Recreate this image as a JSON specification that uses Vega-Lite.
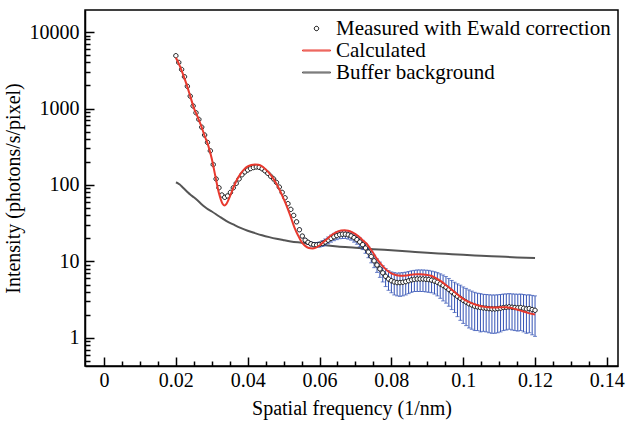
{
  "$schema": "https://vega.github.io/schema/vega-lite/v6.json",
  "width": 533,
  "height": 356,
  "padding": {"left": 3, "top": 10, "right": 1, "bottom": 5},
  "background": "white",
  "config": {
    "font": "Liberation Serif",
    "view": {"stroke": "black", "strokeWidth": 1.5},
    "axis": {
      "grid": false, "domainColor": "black", "domainWidth": 1.5,
      "tickColor": "black", "tickWidth": 1.5,
      "labelFont": "Liberation Serif", "labelFontSize": 20, "labelColor": "black",
      "titleFont": "Liberation Serif", "titleFontSize": 20, "titleFontWeight": "normal", "titleColor": "black",
      "labelOverlap": false, "labelFlush": false, "labelBound": false
    }
  },
  "datasets": {
    "measured": [
      {"x":0.0200,"y":4900,"err":60},{"x":0.0208,"y":4000,"err":50},{"x":0.0216,"y":3240,"err":40},{"x":0.0224,"y":2600,"err":32},
      {"x":0.0232,"y":1950,"err":25},{"x":0.0240,"y":1450,"err":18},{"x":0.0248,"y":1080,"err":14},{"x":0.0256,"y":880,"err":11},
      {"x":0.0264,"y":720,"err":9},{"x":0.0272,"y":570,"err":7},{"x":0.0280,"y":450,"err":6},{"x":0.0288,"y":360,"err":5},
      {"x":0.0296,"y":280,"err":4},{"x":0.0304,"y":185,"err":3},{"x":0.0312,"y":120,"err":2},{"x":0.0320,"y":92,"err":1.5},
      {"x":0.0328,"y":74,"err":1.2},{"x":0.0336,"y":69,"err":1.1},{"x":0.0344,"y":72,"err":1.1},{"x":0.0352,"y":80,"err":1.2},
      {"x":0.0360,"y":92,"err":1.4},{"x":0.0368,"y":105,"err":1.6},{"x":0.0376,"y":120,"err":1.8},{"x":0.0384,"y":136,"err":2},
      {"x":0.0392,"y":148,"err":2.2},{"x":0.0400,"y":157,"err":2.3},{"x":0.0408,"y":164,"err":2.4},{"x":0.0416,"y":169,"err":2.5},
      {"x":0.0424,"y":172,"err":2.5},{"x":0.0432,"y":170,"err":2.5},{"x":0.0440,"y":163,"err":2.4},{"x":0.0448,"y":153,"err":2.3},
      {"x":0.0456,"y":142,"err":2.2},{"x":0.0464,"y":130,"err":2},{"x":0.0472,"y":120,"err":1.9},{"x":0.0480,"y":108,"err":1.8},
      {"x":0.0488,"y":94,"err":1.7},{"x":0.0496,"y":80,"err":1.6},{"x":0.0504,"y":68,"err":1.5},{"x":0.0512,"y":57,"err":1.5},
      {"x":0.0520,"y":48,"err":1.4},{"x":0.0528,"y":40,"err":1.3},{"x":0.0536,"y":33,"err":1.2},{"x":0.0544,"y":26,"err":1.1},
      {"x":0.0552,"y":21.5,"err":1.0},{"x":0.0560,"y":19,"err":1.0},{"x":0.0568,"y":17.8,"err":1.0},{"x":0.0576,"y":17.0,"err":1.0},
      {"x":0.0584,"y":16.6,"err":1.1},{"x":0.0592,"y":16.5,"err":1.2},{"x":0.0600,"y":16.7,"err":1.3},{"x":0.0608,"y":17.2,"err":1.5},
      {"x":0.0616,"y":18.0,"err":1.7},{"x":0.0624,"y":19.0,"err":1.9},{"x":0.0632,"y":20.0,"err":2.1},{"x":0.0640,"y":21.0,"err":2.3},
      {"x":0.0648,"y":21.8,"err":2.5},{"x":0.0656,"y":22.4,"err":2.6},{"x":0.0664,"y":22.7,"err":2.7},{"x":0.0672,"y":22.7,"err":2.7},
      {"x":0.0680,"y":22.3,"err":2.7},{"x":0.0688,"y":21.6,"err":2.6},{"x":0.0696,"y":20.5,"err":2.6},{"x":0.0704,"y":19.3,"err":2.5},
      {"x":0.0712,"y":18.0,"err":2.4},{"x":0.0720,"y":16.6,"err":2.3},{"x":0.0728,"y":15.0,"err":2.2},{"x":0.0736,"y":13.3,"err":2.1},
      {"x":0.0744,"y":11.6,"err":2.0},{"x":0.0752,"y":10.2,"err":1.9},{"x":0.0760,"y":9.0,"err":1.8},{"x":0.0768,"y":8.0,"err":1.8},
      {"x":0.0776,"y":7.1,"err":1.7},{"x":0.0784,"y":6.4,"err":1.7},{"x":0.0792,"y":5.9,"err":1.7},{"x":0.0800,"y":5.6,"err":1.7},
      {"x":0.0808,"y":5.4,"err":1.75},{"x":0.0816,"y":5.3,"err":1.75},{"x":0.0824,"y":5.3,"err":1.8},{"x":0.0832,"y":5.35,"err":1.8},
      {"x":0.0840,"y":5.45,"err":1.8},{"x":0.0848,"y":5.6,"err":1.8},{"x":0.0856,"y":5.75,"err":1.8},{"x":0.0864,"y":5.85,"err":1.8},
      {"x":0.0872,"y":5.9,"err":1.85},{"x":0.0880,"y":5.9,"err":1.85},{"x":0.0888,"y":5.9,"err":1.85},{"x":0.0896,"y":5.85,"err":1.85},
      {"x":0.0904,"y":5.8,"err":1.85},{"x":0.0912,"y":5.7,"err":1.8},{"x":0.0920,"y":5.55,"err":1.8},{"x":0.0928,"y":5.35,"err":1.8},
      {"x":0.0936,"y":5.1,"err":1.8},{"x":0.0944,"y":4.85,"err":1.8},{"x":0.0952,"y":4.6,"err":1.75},{"x":0.0960,"y":4.3,"err":1.7},
      {"x":0.0968,"y":4.0,"err":1.65},{"x":0.0976,"y":3.75,"err":1.6},{"x":0.0984,"y":3.5,"err":1.6},{"x":0.0992,"y":3.3,"err":1.6},
      {"x":0.1000,"y":3.1,"err":1.55},{"x":0.1008,"y":2.95,"err":1.5},{"x":0.1016,"y":2.8,"err":1.45},{"x":0.1024,"y":2.7,"err":1.4},
      {"x":0.1032,"y":2.6,"err":1.35},{"x":0.1040,"y":2.55,"err":1.3},{"x":0.1048,"y":2.5,"err":1.3},{"x":0.1056,"y":2.47,"err":1.25},
      {"x":0.1064,"y":2.45,"err":1.25},{"x":0.1072,"y":2.42,"err":1.25},{"x":0.1080,"y":2.4,"err":1.25},{"x":0.1088,"y":2.4,"err":1.25},
      {"x":0.1096,"y":2.42,"err":1.25},{"x":0.1104,"y":2.45,"err":1.25},{"x":0.1112,"y":2.5,"err":1.25},{"x":0.1120,"y":2.52,"err":1.25},
      {"x":0.1128,"y":2.55,"err":1.25},{"x":0.1136,"y":2.52,"err":1.25},{"x":0.1144,"y":2.5,"err":1.25},{"x":0.1152,"y":2.48,"err":1.25},
      {"x":0.1160,"y":2.5,"err":1.25},{"x":0.1168,"y":2.45,"err":1.25},{"x":0.1176,"y":2.4,"err":1.25},{"x":0.1184,"y":2.42,"err":1.25},
      {"x":0.1192,"y":2.35,"err":1.25},{"x":0.1200,"y":2.3,"err":1.25}
    ],
    "calc": [
      {"x":0.020,"y":4600},{"x":0.021,"y":3700},{"x":0.022,"y":2800},{"x":0.023,"y":2050},{"x":0.024,"y":1450},
      {"x":0.025,"y":1020},{"x":0.026,"y":790},{"x":0.027,"y":600},{"x":0.028,"y":440},{"x":0.029,"y":330},
      {"x":0.030,"y":220},{"x":0.031,"y":130},{"x":0.032,"y":78},{"x":0.033,"y":57},{"x":0.0336,"y":54},
      {"x":0.034,"y":56},{"x":0.035,"y":70},{"x":0.036,"y":92},{"x":0.037,"y":117},{"x":0.038,"y":140},
      {"x":0.039,"y":160},{"x":0.040,"y":175},{"x":0.041,"y":183},{"x":0.042,"y":186},{"x":0.043,"y":184},
      {"x":0.044,"y":175},{"x":0.045,"y":160},{"x":0.046,"y":143},{"x":0.047,"y":124},{"x":0.048,"y":104},
      {"x":0.049,"y":84},{"x":0.050,"y":66},{"x":0.051,"y":51},{"x":0.052,"y":38},{"x":0.053,"y":28},
      {"x":0.054,"y":22},{"x":0.055,"y":18},{"x":0.056,"y":16},{"x":0.057,"y":15},{"x":0.058,"y":14.8},
      {"x":0.059,"y":15.2},{"x":0.060,"y":16.2},{"x":0.061,"y":17.8},{"x":0.062,"y":19.5},{"x":0.063,"y":21.5},
      {"x":0.064,"y":23.2},{"x":0.065,"y":24.6},{"x":0.066,"y":25.4},{"x":0.067,"y":25.6},{"x":0.068,"y":25.2},
      {"x":0.069,"y":24.2},{"x":0.070,"y":22.8},{"x":0.071,"y":21},{"x":0.072,"y":19},{"x":0.073,"y":17.3},
      {"x":0.074,"y":15},{"x":0.075,"y":12.8},{"x":0.076,"y":10.8},{"x":0.077,"y":9.4},{"x":0.078,"y":8.3},
      {"x":0.079,"y":7.5},{"x":0.080,"y":7.0},{"x":0.081,"y":6.7},{"x":0.082,"y":6.55},{"x":0.083,"y":6.5},
      {"x":0.084,"y":6.55},{"x":0.085,"y":6.65},{"x":0.086,"y":6.75},{"x":0.087,"y":6.8},{"x":0.088,"y":6.8},
      {"x":0.089,"y":6.75},{"x":0.090,"y":6.65},{"x":0.091,"y":6.5},{"x":0.092,"y":6.2},{"x":0.093,"y":5.85},
      {"x":0.094,"y":5.45},{"x":0.095,"y":5.0},{"x":0.096,"y":4.6},{"x":0.097,"y":4.2},{"x":0.098,"y":3.85},
      {"x":0.099,"y":3.5},{"x":0.100,"y":3.25},{"x":0.101,"y":3.05},{"x":0.102,"y":2.9},{"x":0.103,"y":2.78},
      {"x":0.104,"y":2.68},{"x":0.105,"y":2.6},{"x":0.106,"y":2.55},{"x":0.107,"y":2.52},{"x":0.108,"y":2.5},
      {"x":0.109,"y":2.5},{"x":0.110,"y":2.52},{"x":0.111,"y":2.53},{"x":0.112,"y":2.52},{"x":0.113,"y":2.48},
      {"x":0.114,"y":2.42},{"x":0.115,"y":2.35},{"x":0.116,"y":2.28},{"x":0.117,"y":2.2},{"x":0.118,"y":2.13},
      {"x":0.119,"y":2.07},{"x":0.120,"y":2.02}
    ],
    "bg": [
      {"x":0.0200,"y":108},{"x":0.0205,"y":106},{"x":0.0210,"y":102},{"x":0.0220,"y":92},{"x":0.0230,"y":83},
      {"x":0.0240,"y":75},{"x":0.0250,"y":69},{"x":0.0260,"y":63},{"x":0.0270,"y":57},{"x":0.0280,"y":52},
      {"x":0.0290,"y":48},{"x":0.0300,"y":45},{"x":0.0320,"y":39},{"x":0.0340,"y":34},{"x":0.0360,"y":30.5},
      {"x":0.0380,"y":27.5},{"x":0.0400,"y":25.2},{"x":0.0420,"y":23.5},{"x":0.0440,"y":22},{"x":0.0460,"y":20.8},
      {"x":0.0480,"y":19.8},{"x":0.0500,"y":19},{"x":0.0520,"y":18.3},{"x":0.0550,"y":17.6},{"x":0.0600,"y":16.5},
      {"x":0.0650,"y":15.7},{"x":0.0700,"y":15.1},{"x":0.0750,"y":14.5},{"x":0.0800,"y":14.0},{"x":0.0850,"y":13.5},
      {"x":0.0900,"y":13.0},{"x":0.0950,"y":12.6},{"x":0.1000,"y":12.2},{"x":0.1050,"y":11.9},{"x":0.1100,"y":11.6},
      {"x":0.1150,"y":11.3},{"x":0.1200,"y":11.1}
    ]
  },
  "encoding": {
    "x": {
      "field": "x", "type": "quantitative",
      "scale": {"type": "linear", "domain": [-0.0053, 0.1431], "nice": false, "zero": false},
      "axis": {
        "title": "Spatial frequency (1/nm)",
        "values": [0,0.005,0.01,0.015,0.02,0.025,0.03,0.035,0.04,0.045,0.05,0.055,0.06,0.065,0.07,0.075,0.08,0.085,0.09,0.095,0.1,0.105,0.11,0.115,0.12,0.125,0.13,0.135,0.14],
        "labelExpr": "abs(datum.value*50 - round(datum.value*50)) < 0.01 ? format(datum.value, '~g') : ''",
        "tickSize": {"condition": {"test": "abs(datum.value*50 - round(datum.value*50)) < 0.01", "value": -9}, "value": -5},
        "labelPadding": 13,
        "titlePadding": 4
      }
    },
    "y": {
      "field": "y", "type": "quantitative",
      "scale": {"type": "log", "domain": [0.43, 19400], "nice": false},
      "axis": {
        "title": "Intensity (photons/s/pixel)",
        "values": [0.5,0.6,0.7,0.8,0.9,1,2,3,4,5,6,7,8,9,10,20,30,40,50,60,70,80,90,100,200,300,400,500,600,700,800,900,1000,2000,3000,4000,5000,6000,7000,8000,9000,10000],
        "labelExpr": "abs(log(datum.value)/LN10 - round(log(datum.value)/LN10)) < 0.001 ? format(datum.value, 'd') : ''",
        "tickSize": {"condition": {"test": "abs(log(datum.value)/LN10 - round(log(datum.value)/LN10)) < 0.001", "value": -9}, "value": -5},
        "labelPadding": 15,
        "titlePadding": 6
      }
    }
  },
  "layer": [
    {
      "data": {"name": "bg"},
      "mark": {"type": "line", "color": "#555555", "strokeWidth": 2, "interpolate": "monotone"}
    },
    {
      "data": {"name": "measured"},
      "mark": {"type": "errorbar", "color": "#3352b5", "thickness": 1, "ticks": {"size": 4, "color": "#3352b5", "thickness": 1}},
      "encoding": {"yError": {"field": "err"}}
    },
    {
      "data": {"name": "measured"},
      "mark": {"type": "point", "filled": false, "fill": "white", "size": 484, "strokeWidth": 0.9, "opacity": 1},
      "encoding": {
        "color": {
          "datum": "Measured with Ewald correction",
          "scale": {"domain": ["Measured with Ewald correction", "Calculated", "Buffer background"], "range": ["black", "#e8392e", "#555555"]},
          "legend": {
            "orient": "none", "legendX": 220, "legendY": 7, "title": null, "padding": 0,
            "labelFont": "Liberation Serif", "labelFontSize": 21, "labelColor": "black", "labelOffset": 8, "labelLimit": 0,
            "symbolSize": 484, "symbolStrokeWidth": 1, "rowPadding": 0
          }
        },
        "shape": {
          "datum": "Measured with Ewald correction",
          "scale": {"domain": ["Measured with Ewald correction", "Calculated", "Buffer background"], "range": ["M 0.2,0 A 0.2,0.2 0 1,1 -0.2,0 A 0.2,0.2 0 1,1 0.2,0 Z", "M -1.27,-0.045 L 1.27,-0.045 L 1.27,0.045 L -1.27,0.045 Z", "M -1.27,-0.045 L 1.27,-0.045 L 1.27,0.045 L -1.27,0.045 Z"]},
          "legend": {
            "orient": "none", "legendX": 220, "legendY": 7, "title": null, "padding": 0,
            "labelFont": "Liberation Serif", "labelFontSize": 21, "labelColor": "black", "labelOffset": 8, "labelLimit": 0,
            "symbolSize": 484, "symbolStrokeWidth": 1, "rowPadding": 0
          }
        }
      }
    },
    {
      "data": {"name": "calc"},
      "mark": {"type": "line", "color": "#e8392e", "strokeWidth": 2, "interpolate": "monotone"}
    }
  ]
}
